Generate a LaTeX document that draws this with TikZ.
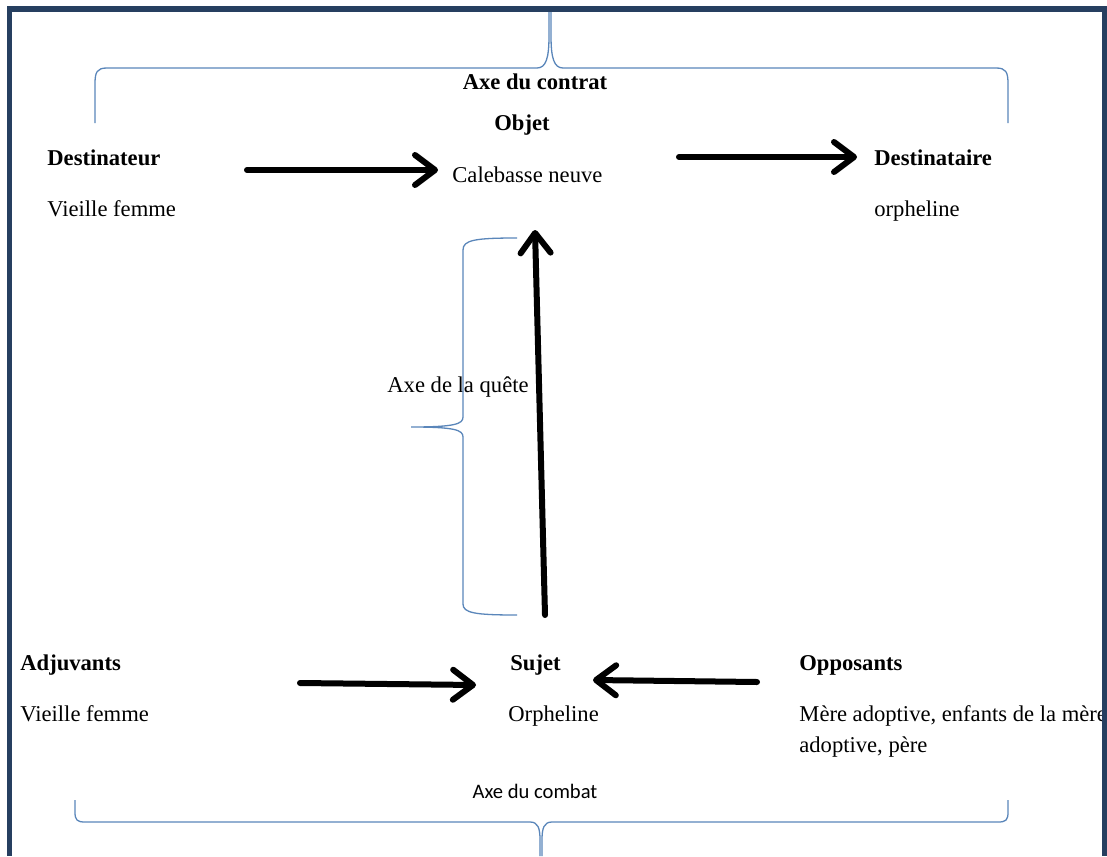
\documentclass[tikz,border=0pt]{standalone}
\usepackage{fontspec}
\setmainfont{Liberation Serif}
\newfontfamily\calib{Carlito}
\usetikzlibrary{arrows.meta}
\definecolor{framecol}{HTML}{263F60}
\definecolor{bracecol}{HTML}{5A86BA}
\begin{document}
\begin{tikzpicture}[x=0.5pt,y=-0.5pt,
 lbl/.style={anchor=base west,inner sep=0pt,font=\fontsize{11.3}{13.5}\selectfont},
 ttl/.style={anchor=base west,inner sep=0pt,font=\fontsize{11.3}{13.5}\selectfont\bfseries},
 arr/.style={line width=3pt,line cap=round,-{Straight Barb[length=10pt,width=15pt,line cap=round,line join=round]}},
 br/.style={draw=bracecol,line width=0.65pt}]
\useasboundingbox (0,0) rectangle (1107,856);
\fill[white] (0,0) rectangle (1107,856);

% texts
\node[ttl,anchor=base] (contrat) at (535,90) {Axe du contrat};
\node[ttl] (objet) at (494,131) {Objet};
\node[ttl] (destinateur) at (47,165) {Destinateur};
\node[lbl] (vf1) at (47,216) {Vieille femme};
\node[lbl] (calebasse) at (452,182) {Calebasse neuve};
\node[ttl] (destinataire) at (874,165) {Destinataire};
\node[lbl] (orph1) at (874,216) {orpheline};
\node[lbl] (quete) at (387,392) {Axe de la quête};
\node[ttl] (adjuvants) at (20,670) {Adjuvants};
\node[lbl] (vf2) at (20,721) {Vieille femme};
\node[ttl] (sujet) at (510,670) {Sujet};
\node[lbl] (orph2) at (508,721) {Orpheline};
\node[ttl] (opposants) at (799,670) {Opposants};
\node[lbl] (mere1) at (799,721) {Mère adoptive, enfants de la mère};
\node[lbl] (mere2) at (799,752) {adoptive, père};
\node[anchor=base,inner sep=0pt,font=\calib\fontsize{10.3}{12}\selectfont] (combat) at (535,798) {Axe du combat};

% arrow end points
\coordinate (a1s) at (247,170); \coordinate (a1e) at (438,170);
\coordinate (a2s) at (679,157); \coordinate (a2e) at (857,157);
\coordinate (a3s) at (545,615); \coordinate (a3e) at (535,230);
\coordinate (a4s) at (300,683); \coordinate (a4e) at (476,685);
\coordinate (a5s) at (757,682); \coordinate (a5e) at (593,680);
\draw[arr] (a1s) -- (a1e);
\draw[arr] (a2s) -- (a2e);
\draw[arr] (a3s) -- (a3e);
\draw[arr] (a4s) -- (a4e);
\draw[arr] (a5s) -- (a5e);

% braces
\draw[br] (95,123) -- (95,84) .. controls (95,72) and (97,68) .. (107,68) -- (537,68)
  .. controls (546,68) and (549,58) .. (549,36) -- (549,12);
\draw[br] (551,12) -- (551,36) .. controls (551,58) and (554,68) .. (563,68) -- (996,68)
  .. controls (1006,68) and (1008,72) .. (1008,84) -- (1008,123);
\draw[br] (75,800) -- (75,812) .. controls (75,820) and (77,822) .. (85,822) -- (530,822)
  .. controls (538,822) and (540,828) .. (540,840) -- (540,856);
\draw[br] (542,856) -- (542,840) .. controls (542,828) and (544,822) .. (552,822) -- (998,822)
  .. controls (1006,822) and (1008,820) .. (1008,812) -- (1008,800);
\draw[br] (517,238) .. controls (475,238) and (463,240) .. (463,250) -- (463,417)
  .. controls (463,424) and (455,427) .. (411,427)
  .. controls (455,427) and (463,430) .. (463,437) -- (463,604)
  .. controls (463,613) and (475,615) .. (517,615);

% frame
\fill[framecol] (7,6) rectangle (1107,12);
\fill[framecol] (7,6) rectangle (12,856);
\fill[framecol] (1102,6) rectangle (1107,856);
\end{tikzpicture}
\end{document}
